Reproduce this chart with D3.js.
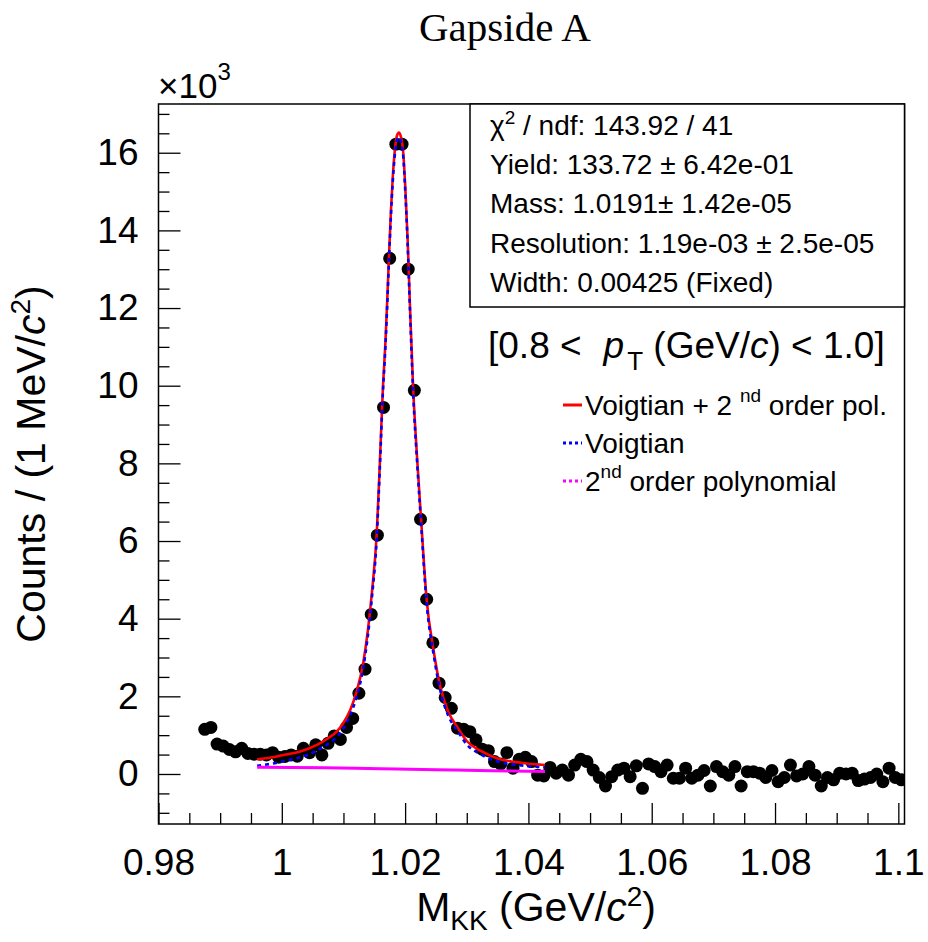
<!DOCTYPE html>
<html><head><meta charset="utf-8">
<script src="https://cdn.jsdelivr.net/npm/d3@7/dist/d3.min.js"></script>
<style>
body{margin:0;background:#fff}
svg{display:block}
text{font-family:"Liberation Sans",Arial,Helvetica,sans-serif;fill:#000}
</style>
</head><body>
<svg id="chart" width="928" height="942"></svg>
<script>
// ---------------- data ----------------
const binCenters = [
0.9875,0.9885,0.9895,0.9905,0.9915,0.9925,0.9935,0.9945,0.9955,0.9965,
0.9975,0.9985,0.9995,1.0005,1.0015,1.0025,1.0035,1.0045,1.0055,1.0065,
1.0075,1.0085,1.0095,1.0105,1.0115,1.0125,1.0135,1.0145,1.0155,1.0165,
1.0175,1.0185,1.0195,1.0205,1.0215,1.0225,1.0235,1.0245,1.0255,1.0265,
1.0275,1.0285,1.0295,1.0305,1.0315,1.0325,1.0335,1.0345,1.0355,1.0365,
1.0375,1.0385,1.0395,1.0405,1.0415,1.0425,1.0435,1.0445,1.0455,1.0465,
1.0475,1.0485,1.0495,1.0505,1.0515,1.0525,1.0535,1.0545,1.0555,1.0565,
1.0575,1.0585,1.0595,1.0605,1.0615,1.0625,1.0635,1.0645,1.0655,1.0665,
1.0675,1.0685,1.0695,1.0705,1.0715,1.0725,1.0735,1.0745,1.0755,1.0765,
1.0775,1.0785,1.0795,1.0805,1.0815,1.0825,1.0835,1.0845,1.0855,1.0865,
1.0875,1.0885,1.0895,1.0905,1.0915,1.0925,1.0935,1.0945,1.0955,1.0965,
1.0975,1.0985,1.0995,1.1005];
const binCounts = [
1150,1200,770,720,630,570,660,530,510,510,
490,550,430,450,490,460,660,550,750,490,
790,980,890,1200,1430,2080,2700,4110,6150,9440,
13280,16220,16220,13000,9880,6560,4500,3380,2340,1970,
1690,1180,1150,1090,880,640,600,320,260,550,
150,380,430,320,-30,-50,170,20,100,-30,
230,380,320,100,-90,-310,-70,100,150,-70,
210,-370,260,190,60,230,-110,-110,150,-110,
-30,90,-310,190,60,-30,190,-310,60,60,
20,-90,90,-200,-90,230,-50,0,190,-30,
-310,-90,-150,20,0,20,-170,-130,-90,0,
-200,150,-90,-150];

// fit curves
const fitX = [0.9960,0.9985,1.0003,1.0030,1.0057,1.0075,1.0089,1.0100,1.0111,1.0121,
1.0132,1.0146,1.0154,1.0159,1.0164,1.0168,1.0171,1.0174,1.0177,1.0180,
1.0184,1.0187,1.0190,1.0193,1.0197,1.0200,1.0204,1.0208,1.0213,1.0220,
1.0226,1.0235,1.0246,1.0257,1.0270,1.0285,1.0300,1.0322,1.0350,1.0388,1.0427];
const fitTotal = [380,430,490,580,750,920,1090,1320,1650,2100,
2850,4650,6200,8000,9950,11100,12200,13400,14500,15380,
16160,16450,16520,16420,16000,15200,13800,12000,9950,8000,
6540,4480,3200,2250,1600,1200,850,600,400,290,230];
const fitSignal = [210,270,330,430,600,780,950,1180,1520,1970,
2720,4520,6080,7880,9830,10980,12080,13280,14380,15260,
16040,16330,16400,16300,15890,15090,13690,11890,9840,7890,
6430,4370,3100,2150,1500,1110,760,510,320,220,170];
const bkgX = [0.9960,1.0070,1.0160,1.0250,1.0340,1.0427];
const bkgY = [175,160,135,110,85,65];

const xTickValues = [0.98,1.0,1.02,1.04,1.06,1.08,1.1];
const xTickLabels = ["0.98","1","1.02","1.04","1.06","1.08","1.1"];
const yTickValues = [0,2,4,6,8,10,12,14,16];
const yTickLabels = ["0","2","4","6","8","10","12","14","16"];

const statLines = [
  {pre:"χ", sup:"2", post:" / ndf: 143.92 / 41"},
  {pre:"Yield: 133.72 ± 6.42e-01"},
  {pre:"Mass: 1.0191± 1.42e-05"},
  {pre:"Resolution: 1.19e-03 ± 2.5e-05"},
  {pre:"Width: 0.00425 (Fixed)"}
];
const legendEntries = [
  {color:"#ff0000", dash:null, parts:[["Voigtian + 2 ",0],["nd",1],[" order pol.",0]]},
  {color:"#0000ff", dash:"3,3", parts:[["Voigtian",0]]},
  {color:"#ff00ff", dash:"3,3", parts:[["2",0],["nd",1],[" order polynomial",0]]}
];

// ---------------- layout ----------------
const svg = d3.select("#chart");
const W = 928, H = 942;
const fx0 = 158.5, fx1 = 904.5, fy0 = 104, fy1 = 824;
const x = d3.scaleLinear().domain([0.98, 1.101]).range([fx0, fx1]);
const y = d3.scaleLinear().domain([-1.288, 17.255]).range([fy1, fy0]); // units of 10^3

svg.append("rect").attr("width", W).attr("height", H).attr("fill", "#fff");

svg.append("defs").append("clipPath").attr("id","frameClip")
  .append("rect").attr("x", fx0).attr("y", fy0).attr("width", fx1-fx0).attr("height", fy1-fy0);

// axes
const yAxisMinor = d3.axisLeft(y).tickValues(d3.range(-1, 17.01, 0.5).filter(v => v % 2 !== 0))
  .tickSizeInner(-11).tickSizeOuter(0).tickFormat("");
const yAxisMajor = d3.axisLeft(y).tickValues(yTickValues)
  .tickSizeInner(-22).tickSizeOuter(0).tickPadding(20)
  .tickFormat((d,i) => yTickLabels[i]);
const xMinorVals = d3.range(0.98, 1.1005, 0.005).filter(v => Math.abs((v*1000) % 20) > 0.5 && Math.abs((v*1000) % 20 - 20) > 0.5);
const xAxisMinor = d3.axisBottom(x).tickValues(xMinorVals).tickSizeInner(-11).tickSizeOuter(0).tickFormat("");
const xAxisMajor = d3.axisBottom(x).tickValues(xTickValues)
  .tickSizeInner(-21).tickSizeOuter(0).tickPadding(25)
  .tickFormat((d,i) => xTickLabels[i]);

function styleAxis(g){
  g.select(".domain").remove();
  g.selectAll("line").attr("stroke","#000").attr("stroke-width",1.3);
  g.selectAll("text").style("font-family",'"Liberation Sans",Arial,sans-serif').style("font-size","37px").attr("fill","#000");
}
svg.append("g").attr("transform",`translate(${fx0},0)`).call(yAxisMinor).call(styleAxis);
svg.append("g").attr("transform",`translate(${fx0},0)`).call(yAxisMajor).call(styleAxis);
svg.append("g").attr("transform",`translate(0,${fy1})`).call(xAxisMinor).call(styleAxis);
svg.append("g").attr("transform",`translate(0,${fy1})`).call(xAxisMajor).call(styleAxis);

// data points
const plot = svg.append("g").attr("clip-path","url(#frameClip)");
plot.selectAll("circle.pt").data(binCenters.map((c,i)=>({c, v: binCounts[i]/1000})))
  .join("circle").attr("class","pt")
  .attr("cx", d => x(d.c)).attr("cy", d => y(d.v)).attr("r", 6.5).attr("fill","#000");

// fit curves
const lineTotal = d3.line().x((d,i)=>x(fitX[i])).y(d=>y(d/1000)).curve(d3.curveMonotoneX);
const lineBkg = d3.line().x((d,i)=>x(bkgX[i])).y(d=>y(d/1000)).curve(d3.curveMonotoneX);
plot.append("path").attr("d", lineTotal(fitTotal)).attr("fill","none").attr("stroke","#ff0000").attr("stroke-width",2.6);
plot.append("path").attr("d", lineTotal(fitSignal)).attr("fill","none").attr("stroke","#0000ff").attr("stroke-width",2.6).attr("stroke-dasharray","4,4");
plot.append("path").attr("d", lineBkg(bkgY)).attr("fill","none").attr("stroke","#ff00ff").attr("stroke-width",3);

// frame
svg.append("rect").attr("x",fx0).attr("y",fy0).attr("width",fx1-fx0).attr("height",fy1-fy0)
  .attr("fill","none").attr("stroke","#000").attr("stroke-width",1.5);

// x10^3
const mult = svg.append("text").attr("x",158).attr("y",98).style("font-size","35px");
mult.append("tspan").text("×10");
mult.append("tspan").attr("dy",-18).style("font-size","24px").text("3");

// title
svg.append("text").attr("x",505).attr("y",41).attr("text-anchor","middle")
  .style("font-family",'"Liberation Serif","Times New Roman",serif').style("font-size","41px").text("Gapside A");

// y axis title
const yt = svg.append("text").attr("transform","translate(45,464) rotate(-90)").attr("text-anchor","middle").style("font-size","41px");
yt.append("tspan").text("Counts / (1 MeV/");
yt.append("tspan").style("font-style","italic").text("c");
yt.append("tspan").attr("dy",-15).style("font-size","28px").text("2");
yt.append("tspan").attr("dy",15).text(")");

// x axis title
const xt = svg.append("text").attr("x",536).attr("y",921).attr("text-anchor","middle").style("font-size","41px");
xt.append("tspan").text("M");
xt.append("tspan").attr("dy",9).style("font-size","28px").text("KK");
xt.append("tspan").attr("dy",-9).text(" (GeV/");
xt.append("tspan").style("font-style","italic").text("c");
xt.append("tspan").attr("dy",-15).style("font-size","28px").text("2");
xt.append("tspan").attr("dy",15).text(")");

// stats box
svg.append("rect").attr("x",470).attr("y",fy0).attr("width",fx1-470).attr("height",307-fy0)
  .attr("fill","#fff").attr("stroke","#000").attr("stroke-width",1.5);
statLines.forEach((s,i) => {
  const t = svg.append("text").attr("x",490).attr("y",135 + i*39.2).style("font-size","28px");
  t.append("tspan").text(s.pre);
  if (s.sup) {
    t.append("tspan").attr("dy",-11).style("font-size","19px").text(s.sup);
    t.append("tspan").attr("dy",11).text(s.post);
  }
});

// pT range label
const pt = svg.append("text").attr("x",488).attr("y",358).style("font-size","37px");
pt.append("tspan").text("[0.8 <");
pt.append("tspan").attr("dx",22).style("font-style","italic").text("p");
pt.append("tspan").attr("dy",12).attr("dx",3).style("font-size","26px").text("T");
pt.append("tspan").attr("dy",-12).text(" (GeV/");
pt.append("tspan").style("font-style","italic").text("c");
pt.append("tspan").text(") < 1.0]");

// legend
legendEntries.forEach((e,i) => {
  const cy = 405 + i*38;
  const ln = svg.append("line").attr("x1",563).attr("x2",582).attr("y1",cy).attr("y2",cy)
    .attr("stroke",e.color).attr("stroke-width",3);
  if (e.dash) ln.attr("stroke-dasharray", e.dash);
  const t = svg.append("text").attr("x",585).attr("y",cy+10).style("font-size","28px");
  let raised = false;
  e.parts.forEach(([s,sup]) => {
    const ts = t.append("tspan").text(s);
    if (sup && !raised) { ts.attr("dy",-13).style("font-size","19px"); raised = true; }
    else if (!sup && raised) { ts.attr("dy",13); raised = false; }
  });
});
</script>
</body></html>
